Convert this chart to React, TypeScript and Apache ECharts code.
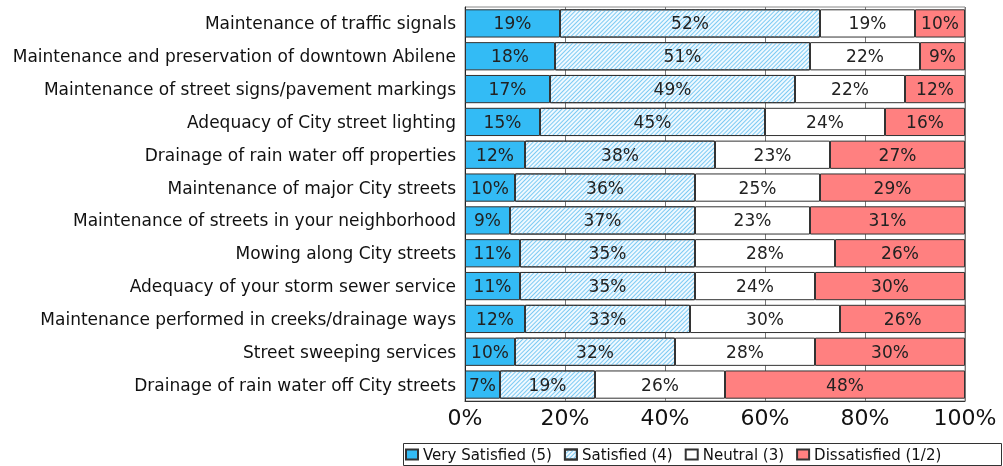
import React, { useEffect, useRef } from "react";
import * as echarts from "echarts";

const categories = [
  "Maintenance of traffic signals",
  "Maintenance and preservation of downtown Abilene",
  "Maintenance of street signs/pavement markings",
  "Adequacy of City street lighting",
  "Drainage of rain water off properties",
  "Maintenance of major City streets",
  "Maintenance of streets in your neighborhood",
  "Mowing along City streets",
  "Adequacy of your storm sewer service",
  "Maintenance performed in creeks/drainage ways",
  "Street sweeping services",
  "Drainage of rain water off City streets",
];

const verySatisfied = [19, 18, 17, 15, 12, 10, 9, 11, 11, 12, 10, 7];
const satisfied = [52, 51, 49, 45, 38, 36, 37, 35, 35, 33, 32, 19];
const neutral = [19, 22, 22, 24, 23, 25, 23, 28, 24, 30, 28, 26];
const dissatisfied = [10, 9, 12, 16, 27, 29, 31, 26, 30, 26, 30, 48];

const seriesNames = ["Very Satisfied (5)", "Satisfied (4)", "Neutral (3)", "Dissatisfied (1/2)"];
const xTicks = [0, 20, 40, 60, 80, 100];

export default function App() {
  const ref = useRef<HTMLDivElement>(null);
  useEffect(() => {
    const chart = echarts.init(ref.current!, undefined, { renderer: "svg" });
    const colors = ["#33bbf5", "#f0f9ff", "#ffffff", "#ff8080"];
    const hatchDecal = {
      symbol: "rect",
      symbolSize: 1,
      dashArrayX: [1, 0],
      dashArrayY: [1, 1.6],
      rotation: -Math.PI / 4,
      color: "#7ccaf3",
    };
    const datas = [verySatisfied, satisfied, neutral, dissatisfied];
    const font = "'DejaVu Sans', sans-serif";
    chart.setOption({
      animation: false,
      grid: {
        left: 465,
        right: 38,
        top: 7,
        bottom: 65,
        show: true,
        borderColor: "#888",
        borderWidth: 1,
        backgroundColor: "transparent",
      },
      legend: {
        left: 403,
        top: 444,
        itemWidth: 12,
        itemHeight: 10,
        itemGap: 12,
        padding: [3, 4, 3, 2],
        textStyle: { fontSize: 15, fontFamily: font, color: "#111" },
        data: seriesNames.map((n) => ({ name: n, icon: "rect" })),
      },
      graphic: [
        {
          type: "rect",
          shape: { x: 403.5, y: 443.5, width: 598, height: 22 },
          style: { fill: "none", stroke: "#333", lineWidth: 1 },
          silent: true,
        },
      ],
      xAxis: {
        type: "value",
        min: 0,
        max: 100,
        interval: 20,
        axisLine: { show: true, lineStyle: { color: "#333" } },
        axisTick: { show: false },
        splitLine: { show: true, lineStyle: { color: "#777", width: 1 } },
        axisLabel: {
          fontSize: 22,
          fontFamily: font,
          color: "#111",
          margin: 5,
          formatter: (v: number) => (xTicks.includes(v) ? v + "%" : ""),
        },
      },
      yAxis: {
        type: "category",
        inverse: true,
        data: categories,
        axisLine: { show: true, lineStyle: { color: "#222" } },
        axisTick: { show: false },
        axisLabel: { fontSize: 17, fontFamily: font, color: "#111", margin: 9 },
      },
      series: seriesNames.map((name, i) => ({
        name,
        type: "bar",
        stack: "total",
        barCategoryGap: "14%",
        data: datas[i],
        itemStyle: {
          color: colors[i],
          borderColor: "#333",
          borderWidth: 1,
          ...(i === 1 ? { decal: hatchDecal } : {}),
        },
        label: {
          show: true,
          position: "inside",
          formatter: "{c}%",
          fontSize: 17,
          fontFamily: font,
          color: "#222",
        },
      })),
    });
    return () => chart.dispose();
  }, []);
  return (
    <div
      ref={ref}
      style={{ position: "fixed", left: 0, top: 0, width: 1003, height: 466 }}
    />
  );
}
